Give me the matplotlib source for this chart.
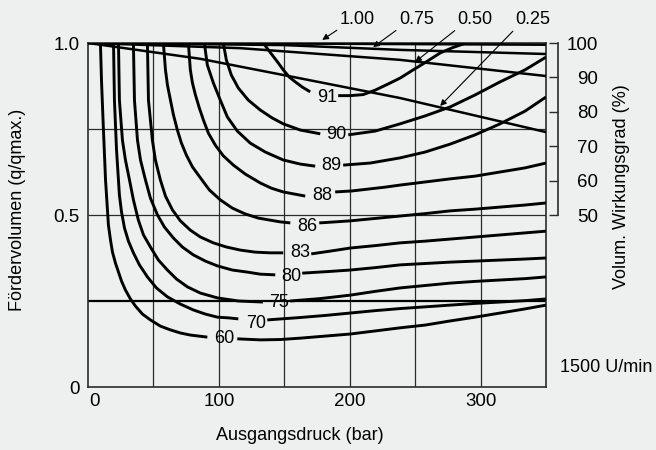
import numpy as np
import matplotlib.pyplot as plt
from matplotlib.transforms import ScaledTranslation

plt.rcParams['font.family'] = ['Liberation Sans', 'DejaVu Sans']

nan = np.nan

# Gesamtwirkungsgrad-Linien: x = Ausgangsdruck (bar), y = q/qmax
# nan = Luecke fuer die Beschriftung
k60_x = [9.5, 10.3, 11.8, 13.4, 15.6, 17.2, 18.7, 21.0, 23.3, 25.6, 28.6, 32.4, 36.3, 41.6, 47.7,
         55.3, 63.0, 70.6, 78.2, 91.2, nan,
         114.1, 131.7, 146.9, 162.2, 181.3, 200.4, 219.5, 238.5, 257.6, 276.7, 295.8, 314.9, 334.0, 350]
k60_y = [1.0, 0.892, 0.747, 0.602, 0.471, 0.427, 0.392, 0.360, 0.334, 0.308, 0.282, 0.256, 0.235, 0.212, 0.195,
         0.177, 0.166, 0.157, 0.151, 0.145, nan,
         0.140, 0.137, 0.138, 0.142, 0.148, 0.154, 0.163, 0.172, 0.180, 0.192, 0.203, 0.215, 0.227, 0.238]

k70_x = [19.5, 20.2, 21.8, 24.0, 25.6, 27.9, 30.9, 34.7, 39.3, 45.4, 52.3, 60.7, 70.6, 80.5, 89.7,
         98.9, 107.3, 114.9, nan,
         137.0, 162.2, 181.3, 200.4, 219.5, 238.5, 257.6, 276.7, 295.8, 314.9, 334.0, 350]
k70_y = [1.0, 0.834, 0.689, 0.558, 0.509, 0.462, 0.424, 0.390, 0.355, 0.320, 0.288, 0.262, 0.241, 0.224, 0.212,
         0.203, 0.201, 0.198, nan,
         0.195, 0.202, 0.208, 0.215, 0.222, 0.228, 0.233, 0.238, 0.243, 0.247, 0.251, 0.256]

k75_x = [23.3, 24.0, 26.3, 28.6, 31.7, 34.7, 38.5, 42.4, 47.7, 53.8, 60.7, 67.6, 76.0, 85.9, 98.9,
         114.9, 133.7, nan,
         154.6, 177.5, 200.4, 219.5, 238.5, 257.6, 276.7, 295.8, 314.9, 334.0, 350]
k75_y = [1.0, 0.834, 0.718, 0.660, 0.602, 0.544, 0.485, 0.442, 0.407, 0.369, 0.340, 0.314, 0.291, 0.273, 0.259,
         0.250, 0.247, nan,
         0.250, 0.257, 0.267, 0.278, 0.288, 0.295, 0.302, 0.307, 0.311, 0.315, 0.320]

k80_x = [34.7, 35.5, 37.8, 40.1, 43.9, 47.7, 53.1, 58.4, 65.3, 72.1, 80.5, 89.7, 98.9, 110.3, 121.8,
         131.7, 143.1, nan,
         163.7, 185.1, 200.4, 219.5, 238.5, 257.6, 276.7, 295.8, 314.9, 334.0, 350]
k80_y = [1.0, 0.834, 0.718, 0.660, 0.602, 0.549, 0.500, 0.465, 0.433, 0.407, 0.384, 0.366, 0.352, 0.340, 0.334,
         0.328, 0.326, nan,
         0.331, 0.336, 0.340, 0.347, 0.355, 0.359, 0.363, 0.366, 0.369, 0.372, 0.375]

k83_x = [45.4, 46.2, 47.7, 49.2, 51.5, 55.3, 59.2, 64.5, 70.6, 78.2, 85.9, 95.8, 105.7, 116.4, 127.9,
         139.3, 149.2, nan,
         170.6, 185.1, 200.4, 219.5, 238.5, 257.6, 276.7, 295.8, 314.9, 334.0, 350]
k83_y = [1.0, 0.834, 0.776, 0.718, 0.660, 0.602, 0.555, 0.515, 0.483, 0.456, 0.436, 0.419, 0.407, 0.398, 0.392,
         0.390, 0.390, nan,
         0.387, 0.395, 0.404, 0.411, 0.419, 0.424, 0.430, 0.436, 0.442, 0.448, 0.453]

k86_x = [57.6, 59.2, 60.7, 63.0, 65.3, 68.3, 71.4, 75.2, 79.8, 85.9, 92.7, 101.1, 110.3, 120.2, 130.2,
         139.3, 147.0, 154.6, nan,
         176.7, 188.9, 200.4, 219.5, 238.5, 257.6, 276.7, 295.8, 314.9, 334.0, 350]
k86_y = [1.0, 0.922, 0.878, 0.834, 0.791, 0.747, 0.709, 0.674, 0.640, 0.608, 0.573, 0.544, 0.520, 0.503, 0.491,
         0.485, 0.480, 0.477, nan,
         0.477, 0.480, 0.483, 0.490, 0.497, 0.504, 0.512, 0.517, 0.523, 0.529, 0.535]

k88_x = [76.7, 78.2, 79.8, 82.1, 85.1, 88.2, 92.0, 97.3, 103.4, 111.1, 120.2, 131.7, 140.1, 149.2, 157.6,
         166.0, nan,
         188.9, 201.9, 215.6, 227.1, 238.5, 257.6, 276.7, 295.8, 314.9, 334.0, 350]
k88_y = [1.0, 0.922, 0.884, 0.849, 0.811, 0.776, 0.738, 0.703, 0.672, 0.645, 0.619, 0.593, 0.578, 0.567, 0.561,
         0.555, nan,
         0.567, 0.570, 0.576, 0.581, 0.587, 0.596, 0.605, 0.613, 0.625, 0.637, 0.651]

k89_x = [88.9, 91.2, 95.8, 101.1, 106.5, 114.1, 124.0, 135.5, 149.2, 162.2, 173.6, nan,
         195.0, 215.6, 238.5, 257.6, 276.7, 295.8, 314.9, 334.0, 350]
k89_y = [1.0, 0.936, 0.884, 0.834, 0.785, 0.744, 0.709, 0.683, 0.660, 0.648, 0.642, nan,
         0.645, 0.651, 0.666, 0.683, 0.706, 0.733, 0.765, 0.802, 0.843]

k90_x = [103.4, 105.7, 109.5, 114.9, 122.5, 131.7, 140.8, 149.2, 162.2, 177.5, nan,
         198.9, 219.5, 238.5, 257.6, 276.7, 295.8, 314.9, 334.0, 350]
k90_y = [1.0, 0.951, 0.907, 0.869, 0.834, 0.805, 0.782, 0.765, 0.747, 0.736, nan,
         0.733, 0.744, 0.765, 0.788, 0.814, 0.849, 0.887, 0.922, 0.959]

k91_x = [134.0, 137.8, 140.8, 145.4, 149.2, 153.8, 158.4, 163.7, 169.8, nan,
         191.2, 200.4, 210.3, 219.5, 229.4, 238.5, 247.7, 257.6, 269.1, 279.0, 288.9]
k91_y = [1.0, 0.980, 0.965, 0.942, 0.922, 0.901, 0.887, 0.872, 0.858, nan,
         0.847, 0.847, 0.850, 0.863, 0.881, 0.898, 0.920, 0.943, 0.971, 0.987, 1.0]

eff_labels = ['60', '70', '75', '80', '83', '86', '88', '89', '90', '91']
eff_lab_x = [104.4, 128.6, 146.2, 155.3, 162.2, 167.6, 179.0, 185.9, 189.7, 182.8]
eff_lab_y = [0.142, 0.186, 0.247, 0.320, 0.390, 0.468, 0.558, 0.645, 0.733, 0.843]

# Volumetrischer Wirkungsgrad fuer die Schwenkwinkel 1.00 / 0.75 / 0.50 / 0.25
v100_x = [0, 175, 350]
v100_y = [1.0, 0.998, 0.995]
v075_x = [0, 149.2, 238.5, 350]
v075_y = [1.0, 0.994, 0.980, 0.968]
v050_x = [0, 116.4, 238.5, 350]
v050_y = [1.0, 0.985, 0.951, 0.904]
v025_x = [0, 85.9, 149.2, 238.5, 350]
v025_y = [1.0, 0.954, 0.907, 0.840, 0.741]

vol_names = ['1.00', '0.75', '0.50', '0.25']
vol_lab_x = [205.7, 250.8, 295.8, 340.1]
vol_lab_y = [1.067, 1.067, 1.067, 1.067]
vol_tip_x = [179.0, 217.9, 250.0, 269.1]
vol_tip_y = [1.009, 0.988, 0.945, 0.817]

bg = '#eef0ef'
gridc = '#2b2b2b'

fig = plt.figure(figsize=(6.56, 4.5), dpi=100, facecolor=bg)
ax = fig.add_axes([88 / 656, 63 / 450, 458 / 656, 344 / 450])
ax.set_facecolor(bg)
ax.set_xlim(0, 350)
ax.set_ylim(0, 1.0)

# Gitter
ax.vlines([50, 100, 150, 200, 250, 300], 0, 1, color=gridc, lw=0.9, zorder=1)
ax.hlines([0.5, 0.75], 0, 350, color=gridc, lw=0.9, zorder=1)
ax.hlines([0.25], 0, 350, color='black', lw=1.6, zorder=1)

curves = [(k60_x, k60_y), (k70_x, k70_y), (k75_x, k75_y), (k80_x, k80_y), (k83_x, k83_y),
          (k86_x, k86_y), (k88_x, k88_y), (k89_x, k89_y), (k90_x, k90_y), (k91_x, k91_y)]
for cx, cy in curves:
    ax.plot(cx, cy, color='black', lw=2.1, solid_capstyle='butt', solid_joinstyle='round', zorder=3)

for t, lx, ly in zip(eff_labels, eff_lab_x, eff_lab_y):
    ax.text(lx, ly, t, ha='center', va='center', fontsize=13, zorder=4)

for vx, vy in [(v100_x, v100_y), (v075_x, v075_y), (v050_x, v050_y), (v025_x, v025_y)]:
    ax.plot(vx, vy, color='black', lw=1.8, zorder=3)

for t, tx, ty, hx, hy in zip(vol_names, vol_lab_x, vol_lab_y, vol_tip_x, vol_tip_y):
    ax.annotate(t, xy=(hx, hy), xytext=(tx, ty), ha='center', va='center', fontsize=13,
                annotation_clip=False,
                arrowprops=dict(arrowstyle='-|>', color='black', lw=0.8, relpos=(0, 0),
                                shrinkA=0, shrinkB=0, mutation_scale=9))

for s in ax.spines.values():
    s.set_color(gridc)
    s.set_linewidth(1.2)

ax.set_xticks([0, 100, 200, 300])
ax.set_yticks([0, 0.5, 1.0], ['0', '0.5', '1.0'])
ax.tick_params(axis='x', length=0, pad=4.6, labelsize=13.5)
ax.tick_params(axis='y', length=0, pad=5.8, labelsize=13.5)
lab0 = ax.get_xticklabels()[0]
lab0.set_transform(lab0.get_transform() + ScaledTranslation(0.07, 0, fig.dpi_scale_trans))

# rechte Skala: volumetrischer Wirkungsgrad
ax2 = ax.twinx()
ax2.set_ylim(0, 100)
ax2.set_yticks([50, 60, 70, 80, 90, 100])
for s in ['top', 'bottom', 'left']:
    ax2.spines[s].set_visible(False)
ax2.spines['right'].set_position(('outward', 12 * 0.72))
ax2.spines['right'].set_bounds(50, 100)
ax2.spines['right'].set_color(gridc)
ax2.spines['right'].set_linewidth(1.2)
ax2.tick_params(axis='y', direction='in', length=6.5, width=1.0, color=gridc, pad=28.8, labelsize=13.5)
plt.setp(ax2.get_yticklabels(), ha='right')

fig.text(300 / 656, 1 - 435 / 450, 'Ausgangsdruck (bar)', ha='center', va='center', fontsize=13)
fig.text(18 / 656, 1 - 210 / 450, 'Fördervolumen (q/qmax.)', ha='center', va='center',
         rotation=90, fontsize=13)
fig.text(622 / 656, 1 - 187 / 450, 'Volum. Wirkungsgrad (%)', ha='center', va='center',
         rotation=90, fontsize=13)
fig.text(560 / 656, 1 - 368 / 450, '1500 U/min', ha='left', va='center', fontsize=13)

fig.savefig('out.png', dpi=100, facecolor=bg)
